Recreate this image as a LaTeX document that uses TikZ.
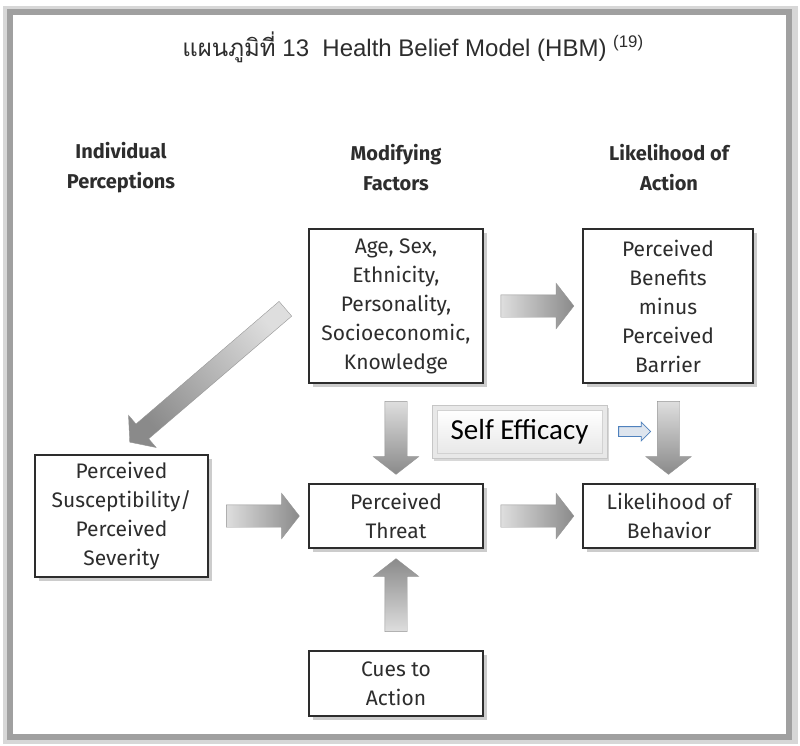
\documentclass[tikz,border=0pt]{standalone}
\usepackage{fontspec}
\setmainfont{Fira Sans}
\newfontfamily\titlefont{Liberation Sans}
\newfontfamily\thaifont[Script=Thai]{Loma}
\newfontfamily\effont{Carlito}
\usetikzlibrary{positioning,calc,shapes.arrows,shadows}

\definecolor{hbmcolor0000}{RGB}{45,45,45}
\definecolor{hbmcolor0001}{RGB}{150,150,150}
\definecolor{hbmcolor0002}{RGB}{222,222,222}
\definecolor{hbmcolor0003}{RGB}{138,138,138}
\definecolor{hbmcolor0004}{RGB}{79,129,189}
\definecolor{hbmcolor0005}{RGB}{222,229,238}
\definecolor{hbmcolor0006}{RGB}{232,232,232}
\definecolor{hbmcolor0007}{RGB}{160,160,160}
\definecolor{hbmcolor0008}{RGB}{215,215,215}

\begin{document}
\begin{tikzpicture}[yscale=-1
,hstyle0/.style={draw=hbmcolor0000,fill=white,line width=1.2pt,align=center,text=hbmcolor0000,font=\fontsize{21}{29}\selectfont,inner sep=0pt,minimum width=174pt,drop shadow={shadow xshift=4pt,shadow yshift=-4pt,fill=gray,opacity=.4}}
,hstyle1/.style={align=center,text=hbmcolor0000,font=\bfseries\fontsize{20}{30}\selectfont}
,hstyle2/.style={single arrow,inner xsep=0pt,inner ysep=11pt,single arrow head extend=11.5pt,single arrow tip angle=104,draw=hbmcolor0001,line width=0.4pt,left color=hbmcolor0002,right color=hbmcolor0003,minimum height=73pt}
,hstyle3/.style={draw=gray!45,fill=hbmcolor0006,minimum width=175pt,minimum height=53pt,inner sep=0pt,drop shadow={shadow xshift=2pt,shadow yshift=-3pt,fill=gray,opacity=.3}}
,hstyle4/.style={draw=gray!35,top color=white,bottom color=hbmcolor0006,minimum width=165pt,minimum height=43pt,inner sep=0pt,font=\effont\fontsize{29}{32}\selectfont}
,hstyle5/.style={single arrow,inner xsep=0pt,inner ysep=4.5pt,single arrow head extend=4.5pt,draw=hbmcolor0004,fill=hbmcolor0005,line width=0.8pt,minimum height=32pt}
]
\useasboundingbox (0pt,0pt) rectangle (800pt,745pt);
% frame
\fill[white] (0pt,0pt) rectangle (800pt,745pt);
\fill[hbmcolor0008] (3pt,6pt) rectangle (798pt,744pt);
\fill[hbmcolor0007] (7pt,9pt) rectangle (792pt,740pt);
\fill[white] (13pt,15pt) rectangle (786pt,734pt);
% title
\node[font=\titlefont\fontsize{24}{28}\selectfont,text=hbmcolor0000] (title) at (413pt,47pt) {{\thaifont แผนภูมิที่} 13\ \ Health Belief Model (HBM) \textsuperscript{(19)}};
% headings
\node[hstyle1] (h0) at (121pt,168pt) {Individual\\Perceptions};
\node[hstyle1] (h1) at (396pt,168pt) {Modifying\\Factors};
\node[hstyle1] (h2) at (669pt,168pt) {Likelihood of\\Action};
% boxes
\node[hstyle0,minimum height=154pt] (mod) at (396pt,306pt) {Age, Sex,\\Ethnicity,\\Personality,\\Socioeconomic,\\Knowledge};
\node[hstyle0,minimum width=170pt,minimum height=154pt] (ben) at (668pt,306pt) {Perceived\\Benefits\\minus\\Perceived\\Barrier};
\node[hstyle0,minimum width=173pt,minimum height=122pt] (sus) at (121.5pt,516pt) {Perceived\\Susceptibility/\\Perceived\\Severity};
\node[hstyle0,minimum height=64pt] (thr) at (396pt,516pt) {Perceived\\Threat};
\node[hstyle0,minimum width=172pt,minimum height=64pt] (beh) at (669pt,516pt) {Likelihood of\\Behavior};
\node[hstyle0,minimum height=65pt] (cue) at (396pt,683.5pt) {Cues to\\Action};
% self efficacy
\node[hstyle3] (seff) at (519.5pt,431.5pt) {};
\node[hstyle4] (seffin) at (seff) {Self Efficacy};
\node[hstyle5,right=11pt of seff] (sarr) {};
% block arrows
\node[hstyle2] (a0) at ($(mod.east)!0.5!(ben.west)$) {};
\node[hstyle2,rotate=270,shading angle=0] (a1) at ($(mod.south)!0.5!(thr.north)$) {};
\node[hstyle2,rotate=270,shading angle=0] (a2) at ($(ben.south)!0.5!(beh.north)$) {};
\node[hstyle2] (a3) at ($(sus.east)!0.5!(thr.west)$) {};
\node[hstyle2] (a4) at ($(thr.east)!0.5!(beh.west)$) {};
\node[hstyle2,rotate=90,shading angle=180] (a5) at ($(cue.north)!0.5!(thr.south)$) {};
\node[hstyle2,minimum height=205pt,inner ysep=9.5pt,rotate=220.6,shading angle=310.6] (a6) at ($(mod.west)!0.5!(sus.north)+(-4.5pt,-7.2pt)$) {};
\end{tikzpicture}
\end{document}
